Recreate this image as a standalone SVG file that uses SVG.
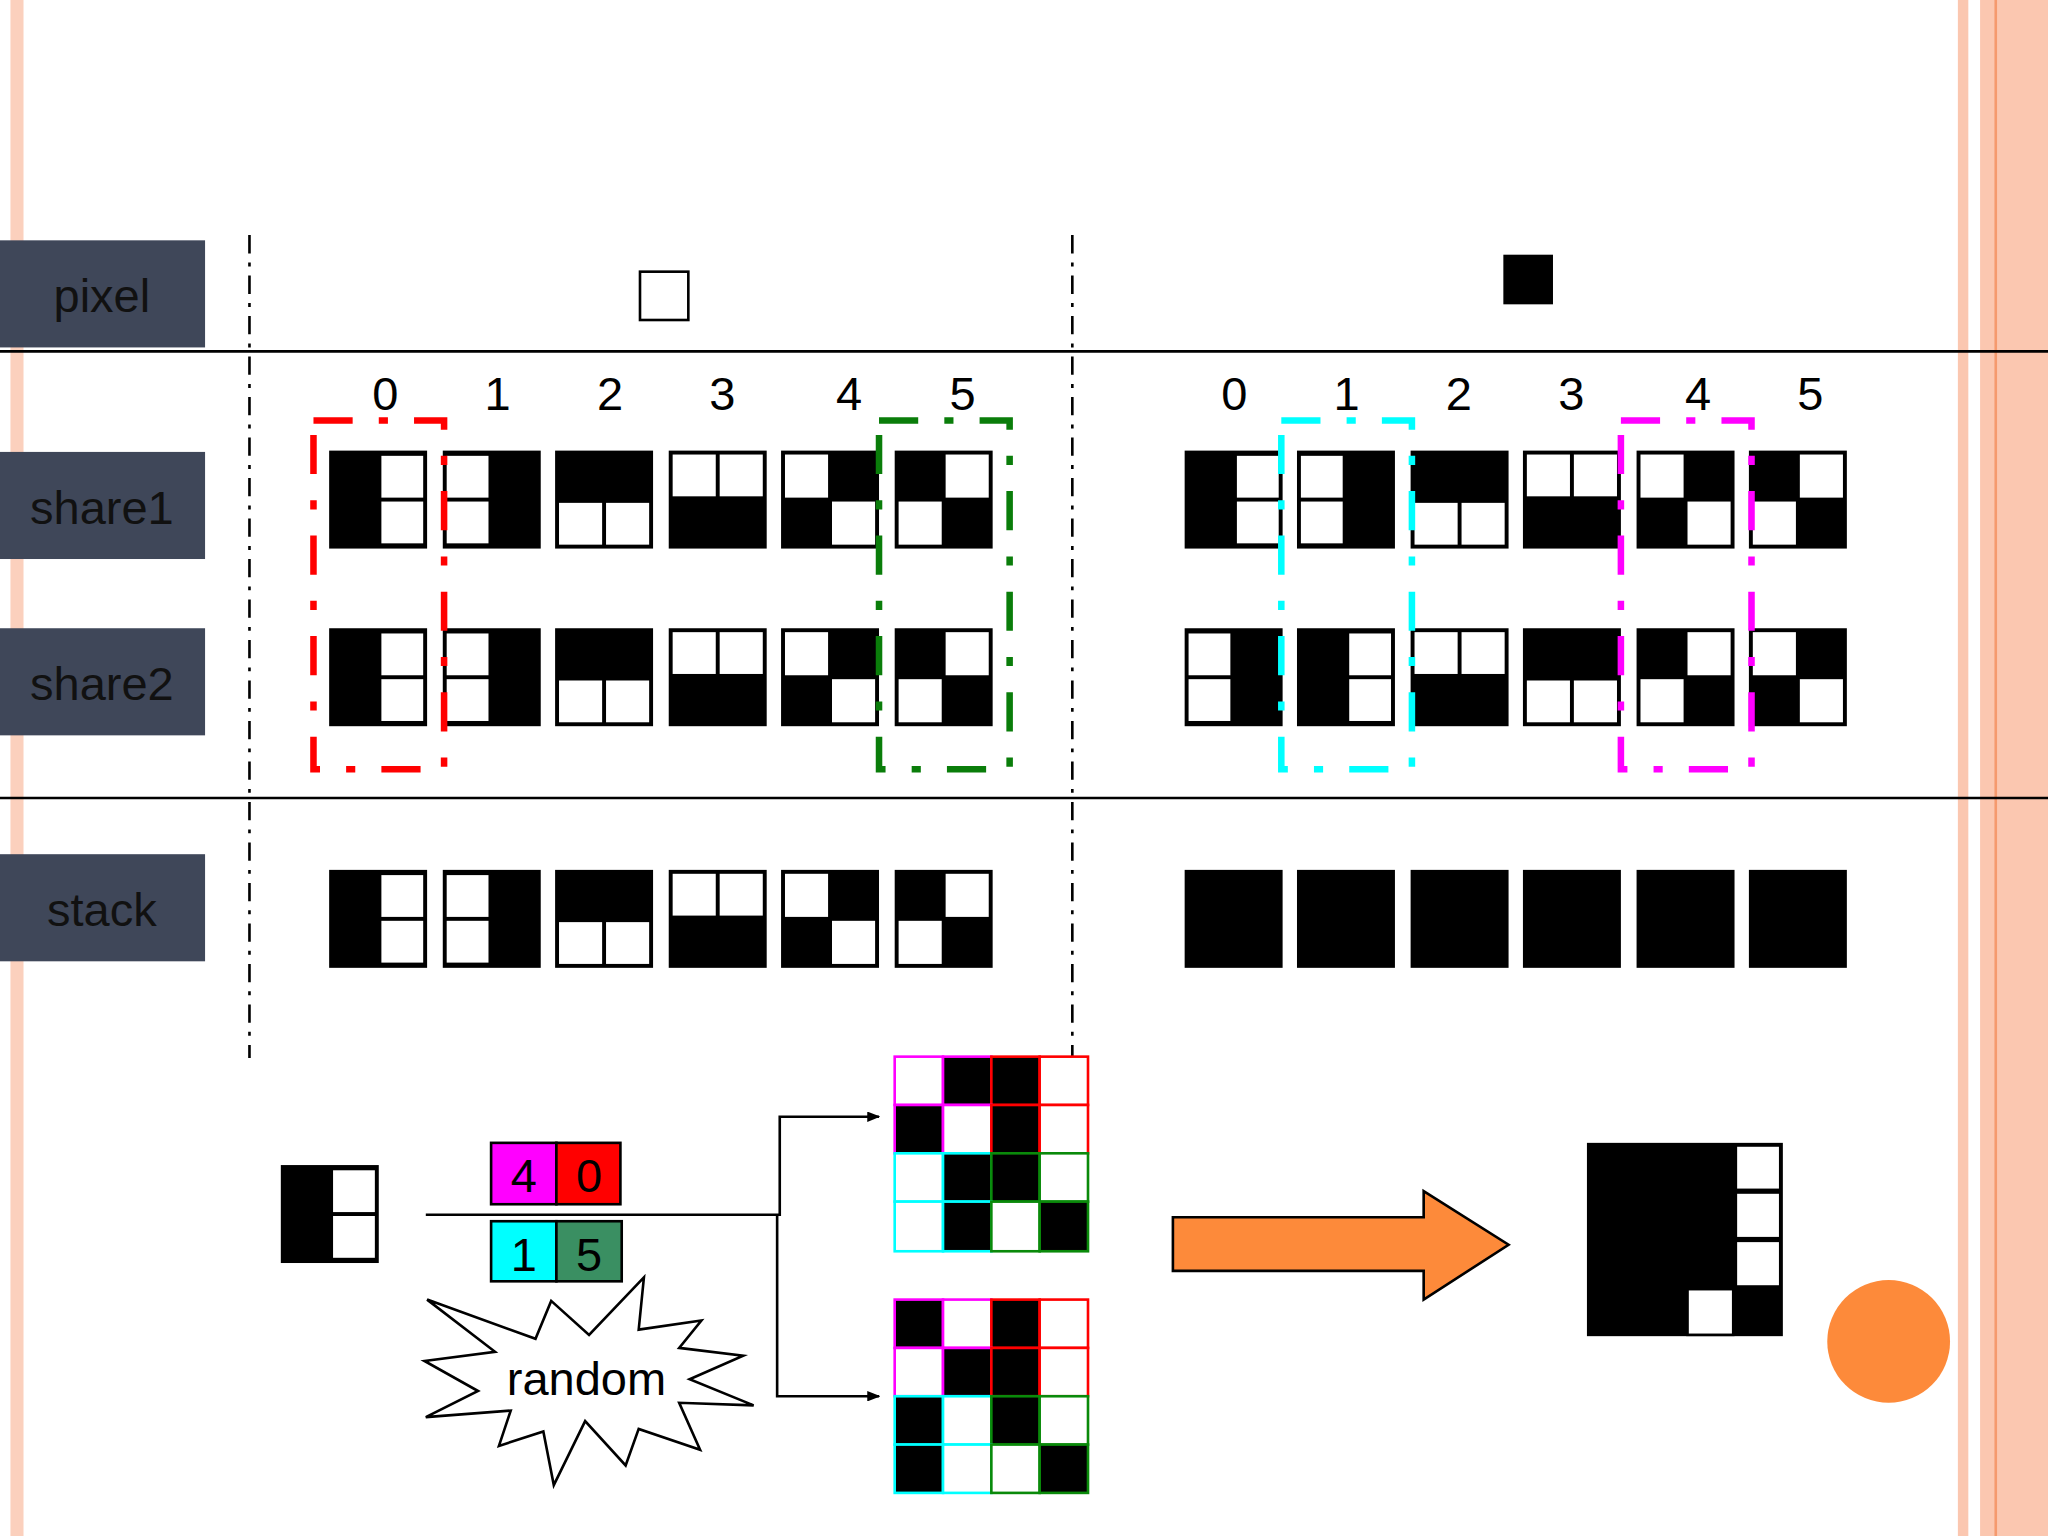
<svg xmlns="http://www.w3.org/2000/svg" width="2048" height="1536" viewBox="0 0 2048 1536">
<defs>
<style>
.lbl rect{fill:#3f4759}
.lbl text{font-family:"Liberation Sans",Arial,sans-serif;font-size:36px;fill:#111;text-anchor:middle}
.num{font-family:"Liberation Sans",Arial,sans-serif;font-size:36px;fill:#000;text-anchor:middle}
.c{stroke:#000;stroke-width:2}
.w{fill:#fff}
.b{fill:#000}
.dd{fill:none;stroke-width:5;stroke-dasharray:30 20 7 20}
.sep{stroke:#000;stroke-width:2;stroke-dasharray:14 7 3 7;fill:none}
.conn{stroke:#000;stroke-width:2;fill:none}
</style>
<marker id="ah" markerWidth="10" markerHeight="8" refX="9" refY="4" orient="auto" markerUnits="userSpaceOnUse"><path d="M0,0 L10,4 L0,8 Z" fill="#000"/></marker>
<g id="p1010"><rect width="75" height="75" class="b"/><rect x="39" y="3" width="34" height="34" class="w c"/><rect x="39" y="38" width="34" height="34" class="w c"/></g>
<g id="p0101"><rect width="75" height="75" class="b"/><rect x="2" y="3" width="34" height="34" class="w c"/><rect x="2" y="38" width="34" height="34" class="w c"/></g>
<g id="p1100"><rect width="75" height="75" class="b"/><rect x="2" y="39" width="35" height="34" class="w c"/><rect x="38" y="39" width="35" height="34" class="w c"/></g>
<g id="p0011"><rect width="75" height="75" class="b"/><rect x="2" y="2" width="35" height="34" class="w c"/><rect x="38" y="2" width="35" height="34" class="w c"/></g>
<g id="p0110"><rect width="75" height="75" class="b"/><rect x="2" y="2" width="35" height="35" class="w c"/><rect x="38" y="38" width="35" height="35" class="w c"/></g>
<g id="p1001"><rect width="75" height="75" class="b"/><rect x="38" y="2" width="35" height="35" class="w c"/><rect x="2" y="38" width="35" height="35" class="w c"/></g>
</defs>
<rect width="2048" height="1536" fill="#fff"/>
<g transform="scale(1.306122)">
<g id="border">
<rect x="8" y="0" width="10" height="1176" fill="#fbd0bd"/>
<rect x="1499" y="0" width="8" height="1176" fill="#fbc7b0"/>
<rect x="1516" y="0" width="52" height="1176" fill="#fbc7b0"/>
<rect x="1527" y="0" width="2" height="1176" fill="#f59a6e"/>
</g>
<g id="lines">
<line x1="0" y1="269" x2="1568" y2="269" stroke="#000" stroke-width="2"/>
<line x1="0" y1="611" x2="1568" y2="611" stroke="#000" stroke-width="2"/>
<line x1="191" y1="180" x2="191" y2="810" class="sep"/>
<line x1="821" y1="180" x2="821" y2="810" class="sep"/>
</g>
<g id="label-pixel" class="lbl"><rect x="0" y="184" width="157" height="82"/><text x="78" y="239">pixel</text></g>
<g id="label-share1" class="lbl"><rect x="0" y="346" width="157" height="82"/><text x="78" y="401">share1</text></g>
<g id="label-share2" class="lbl"><rect x="0" y="481" width="157" height="82"/><text x="78" y="536">share2</text></g>
<g id="label-stack" class="lbl"><rect x="0" y="654" width="157" height="82"/><text x="78" y="709">stack</text></g>
<g id="pixel-white"><rect x="490" y="208" width="37" height="37" fill="#fff" stroke="#000" stroke-width="2"/></g>
<g id="pixel-black"><rect x="1151" y="195" width="38" height="38" fill="#000"/></g>
<g id="numbers">
<text class="num" x="295" y="314">0</text><text class="num" x="381" y="314">1</text><text class="num" x="467" y="314">2</text><text class="num" x="553" y="314">3</text><text class="num" x="650" y="314">4</text><text class="num" x="737" y="314">5</text>
<text class="num" x="945" y="314">0</text><text class="num" x="1031" y="314">1</text><text class="num" x="1117" y="314">2</text><text class="num" x="1203" y="314">3</text><text class="num" x="1300" y="314">4</text><text class="num" x="1386" y="314">5</text>
</g>
<g id="left-share1">
<use href="#p1010" x="252" y="345"/><use href="#p0101" x="339" y="345"/><use href="#p1100" x="425" y="345"/><use href="#p0011" x="512" y="345"/><use href="#p0110" x="598" y="345"/><use href="#p1001" x="685" y="345"/>
</g>
<g id="left-share2">
<use href="#p1010" x="252" y="481"/><use href="#p0101" x="339" y="481"/><use href="#p1100" x="425" y="481"/><use href="#p0011" x="512" y="481"/><use href="#p0110" x="598" y="481"/><use href="#p1001" x="685" y="481"/>
</g>
<g id="left-stack">
<use href="#p1010" x="252" y="666"/><use href="#p0101" x="339" y="666"/><use href="#p1100" x="425" y="666"/><use href="#p0011" x="512" y="666"/><use href="#p0110" x="598" y="666"/><use href="#p1001" x="685" y="666"/>
</g>
<g id="right-share1">
<use href="#p1010" x="907" y="345"/><use href="#p0101" x="993" y="345"/><use href="#p1100" x="1080" y="345"/><use href="#p0011" x="1166" y="345"/><use href="#p0110" x="1253" y="345"/><use href="#p1001" x="1339" y="345"/>
</g>
<g id="right-share2">
<use href="#p0101" x="907" y="481"/><use href="#p1010" x="993" y="481"/><use href="#p0011" x="1080" y="481"/><use href="#p1100" x="1166" y="481"/><use href="#p1001" x="1253" y="481"/><use href="#p0110" x="1339" y="481"/>
</g>
<g id="right-stack">
<rect x="907" y="666" width="75" height="75"/><rect x="993" y="666" width="75" height="75"/><rect x="1080" y="666" width="75" height="75"/><rect x="1166" y="666" width="75" height="75"/><rect x="1253" y="666" width="75" height="75"/><rect x="1339" y="666" width="75" height="75"/>
</g>
<g id="highlights">
<rect x="240" y="322" width="100" height="267" class="dd" stroke="#ff0000"/>
<rect x="673" y="322" width="100" height="267" class="dd" stroke="#0a7d0a"/>
<rect x="981" y="322" width="100" height="267" class="dd" stroke="#00ffff"/>
<rect x="1241" y="322" width="100" height="267" class="dd" stroke="#ff00ff"/>
</g>
<g id="src-cell"><use href="#p1010" x="215" y="892"/></g>
<g id="keys" font-family="Liberation Sans, Arial, sans-serif" font-size="36" text-anchor="middle">
<rect x="376" y="875" width="50" height="47" fill="#ff00ff" stroke="#000" stroke-width="2"/><text x="401" y="913">4</text>
<rect x="426" y="875" width="49" height="47" fill="#ff0000" stroke="#000" stroke-width="2"/><text x="451" y="913">0</text>
<rect x="376" y="935" width="50" height="46" fill="#00ffff" stroke="#000" stroke-width="2"/><text x="401" y="973">1</text>
<rect x="426" y="935" width="50" height="46" fill="#3a8f62" stroke="#000" stroke-width="2"/><text x="451" y="973">5</text>
</g>
<g id="random">
<polygon points="327,995 410,1025 422,996 451,1022 493,978 489,1018 537,1011 520,1032 569,1038 528,1056 577,1076 520,1074 536,1110 489,1094 479,1122 448,1088 424,1137 416,1096 382,1107 391,1080 326,1085 366,1065 325,1042 379,1035" fill="#fff" stroke="#000" stroke-width="2"/>
<text x="449" y="1068" font-family="Liberation Sans, Arial, sans-serif" font-size="36" text-anchor="middle">random</text>
</g>
<g id="connectors">
<polyline points="326,930 597,930 597,855 673,855" class="conn" marker-end="url(#ah)"/>
<polyline points="595,930 595,1069 673,1069" class="conn" marker-end="url(#ah)"/>
</g>
<g id="grid1" stroke-width="2">
<rect x="685" y="809" width="37" height="37" fill="#fff" stroke="#ff00ff"/><rect x="722" y="809" width="37" height="37" fill="#000" stroke="#ff00ff"/><rect x="759" y="809" width="37" height="37" fill="#000" stroke="#ff0000"/><rect x="796" y="809" width="37" height="37" fill="#fff" stroke="#ff0000"/>
<rect x="685" y="846" width="37" height="37" fill="#000" stroke="#ff00ff"/><rect x="722" y="846" width="37" height="37" fill="#fff" stroke="#ff00ff"/><rect x="759" y="846" width="37" height="37" fill="#000" stroke="#ff0000"/><rect x="796" y="846" width="37" height="37" fill="#fff" stroke="#ff0000"/>
<rect x="685" y="883" width="37" height="37" fill="#fff" stroke="#00ffff"/><rect x="722" y="883" width="37" height="37" fill="#000" stroke="#00ffff"/><rect x="759" y="883" width="37" height="37" fill="#000" stroke="#0a8a0a"/><rect x="796" y="883" width="37" height="37" fill="#fff" stroke="#0a8a0a"/>
<rect x="685" y="920" width="37" height="38" fill="#fff" stroke="#00ffff"/><rect x="722" y="920" width="37" height="38" fill="#000" stroke="#00ffff"/><rect x="759" y="920" width="37" height="38" fill="#fff" stroke="#0a8a0a"/><rect x="796" y="920" width="37" height="38" fill="#000" stroke="#0a8a0a"/>
</g>
<g id="grid2" stroke-width="2">
<rect x="685" y="995" width="37" height="37" fill="#000" stroke="#ff00ff"/><rect x="722" y="995" width="37" height="37" fill="#fff" stroke="#ff00ff"/><rect x="759" y="995" width="37" height="37" fill="#000" stroke="#ff0000"/><rect x="796" y="995" width="37" height="37" fill="#fff" stroke="#ff0000"/>
<rect x="685" y="1032" width="37" height="37" fill="#fff" stroke="#ff00ff"/><rect x="722" y="1032" width="37" height="37" fill="#000" stroke="#ff00ff"/><rect x="759" y="1032" width="37" height="37" fill="#000" stroke="#ff0000"/><rect x="796" y="1032" width="37" height="37" fill="#fff" stroke="#ff0000"/>
<rect x="685" y="1069" width="37" height="37" fill="#000" stroke="#00ffff"/><rect x="722" y="1069" width="37" height="37" fill="#fff" stroke="#00ffff"/><rect x="759" y="1069" width="37" height="37" fill="#000" stroke="#0a8a0a"/><rect x="796" y="1069" width="37" height="37" fill="#fff" stroke="#0a8a0a"/>
<rect x="685" y="1106" width="37" height="37" fill="#000" stroke="#00ffff"/><rect x="722" y="1106" width="37" height="37" fill="#fff" stroke="#00ffff"/><rect x="759" y="1106" width="37" height="37" fill="#fff" stroke="#0a8a0a"/><rect x="796" y="1106" width="37" height="37" fill="#000" stroke="#0a8a0a"/>
</g>
<g id="big-arrow"><polygon points="898,932 1090,932 1090,912 1155,953 1090,995 1090,973 898,973" fill="#fd8a3a" stroke="#000" stroke-width="2"/></g>
<g id="result">
<rect x="1215" y="875" width="150" height="148" fill="#000"/>
<rect x="1329" y="877" width="34" height="34" class="w c"/>
<rect x="1329" y="913" width="34" height="35" class="w c"/>
<rect x="1329" y="950" width="34" height="35" class="w c"/>
<rect x="1292" y="987" width="35" height="35" class="w c"/>
</g>
<g id="dot"><circle cx="1446" cy="1027" r="47" fill="#fd8a3a"/></g>
</g>
</svg>
